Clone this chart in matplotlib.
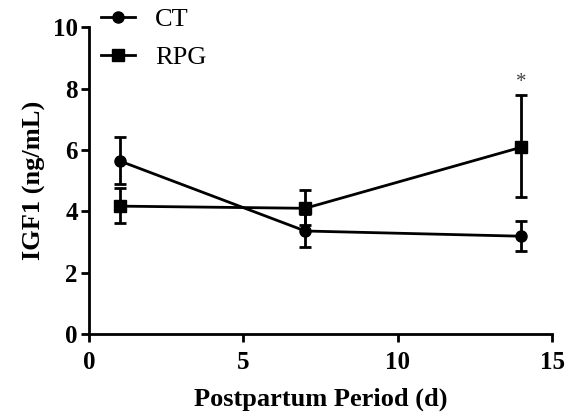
import matplotlib.pyplot as plt
from matplotlib.lines import Line2D

# IGF1 over the postpartum period, mean +/- SEM
days = [1, 7, 14]
ct_mean = [5.64, 3.36, 3.19]
ct_err_low = [0.76, 0.53, 0.49]
ct_err_high = [0.78, 0.55, 0.49]
rpg_mean = [4.17, 4.10, 6.09]
rpg_err_low = [0.55, 0.55, 1.63]
rpg_err_high = [0.58, 0.59, 1.69]
star_day = 14
star_y = 7.9

plt.rcParams['font.family'] = ['Liberation Serif', 'DejaVu Serif']

fig = plt.figure(figsize=(5.67, 4.12), dpi=100)
ax = fig.add_axes([0.157, 0.189, 0.817, 0.745])

ax.errorbar(days, ct_mean, yerr=[ct_err_low, ct_err_high], color='black',
            marker='o', markersize=8, linewidth=2, elinewidth=2,
            capsize=4.5, capthick=2)
ax.errorbar(days, rpg_mean, yerr=[rpg_err_low, rpg_err_high], color='black',
            marker='s', markersize=8, linewidth=2, elinewidth=2,
            capsize=4.5, capthick=2)
ax.text(star_day, star_y, '*', ha='center', va='bottom', fontsize=15,
        color='#444444')

ax.set_xlim(0, 15)
ax.set_ylim(0, 10)
ax.set_xticks([0, 5, 10, 15])
ax.set_yticks([0, 2, 4, 6, 8, 10])
for s in ['top', 'right']:
    ax.spines[s].set_visible(False)
for s in ['left', 'bottom']:
    ax.spines[s].set_linewidth(2)
ax.tick_params(width=2, length=6, labelsize=18, pad=2)
ax.tick_params(axis='x', pad=6)
for lab in ax.get_xticklabels() + ax.get_yticklabels():
    lab.set_fontweight('bold')

ax.set_xlabel('Postpartum Period (d)', fontsize=19, fontweight='bold', labelpad=10)
ax.set_ylabel('IGF1 (ng/mL)', fontsize=19, fontweight='bold', labelpad=5)

handles = [Line2D([], [], color='black', marker='o', markersize=8, linewidth=2),
           Line2D([], [], color='black', marker='s', markersize=8, linewidth=2)]
ax.legend(handles, ['CT', 'RPG'], loc='upper left', bbox_to_anchor=(-0.025, 1.14),
          frameon=False, fontsize=19, handlelength=1.3, labelspacing=0.55,
          handletextpad=0.75)

fig.savefig('out.png', dpi=100)
